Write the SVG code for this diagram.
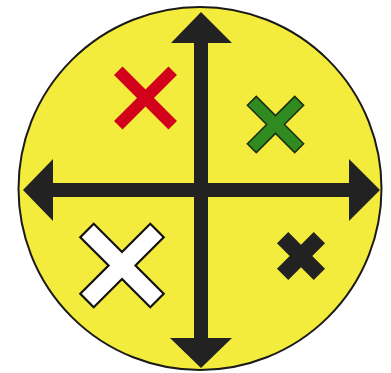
<svg xmlns="http://www.w3.org/2000/svg" width="391" height="373" viewBox="0 0 391 373">
<style>
.bg{fill:#fff}
.disc{fill:#f4ec3c;stroke:#1a1a1a;stroke-width:2}
.arrow{fill:#222}
</style>
<rect class="bg" width="391" height="373"/>
<g id="disc"><circle class="disc" cx="200" cy="188.5" r="181.5"/></g>
<g id="connectors">
<polygon class="arrow" points="201,12 232,43 208,43 208,338 232,338 201,368 170,338 194,338 194,43 171,43"/>
<polygon class="arrow" points="23,190 53,159 53,183 349,183 349,159 380,190 349,221 349,197 53,197 53,221"/>
</g>
<g id="red-x" transform="translate(145.5,98) rotate(45)">
<polygon fill="#d2001a" points="6,38.5 -6,38.5 -6,6 -38.5,6 -38.5,-6 -6,-6 -6,-38.5 6,-38.5 6,-6 38.5,-6 38.5,6 6,6"/>
</g>
<g id="green-x" transform="translate(275.5,124.5) rotate(45)">
<polygon fill="#2f8a1f" stroke="#1c2e12" stroke-width="1.5" stroke-linejoin="miter" points="6.3,33.5 -6.3,33.5 -6.3,6.3 -33.5,6.3 -33.5,-6.3 -6.3,-6.3 -6.3,-33.5 6.3,-33.5 6.3,-6.3 33.5,-6.3 33.5,6.3 6.3,6.3"/>
</g>
<g id="white-x" transform="translate(122,265.5) rotate(45)">
<polygon fill="#ffffff" stroke="#111" stroke-width="2.2" points="9.5,49.5 -9.5,49.5 -9.5,9.5 -49.5,9.5 -49.5,-9.5 -9.5,-9.5 -9.5,-49.5 9.5,-49.5 9.5,-9.5 49.5,-9.5 49.5,9.5 9.5,9.5"/>
</g>
<g id="black-x" transform="translate(301,256) rotate(45)">
<polygon fill="#222" points="8,26 -8,26 -8,8 -26,8 -26,-8 -8,-8 -8,-26 8,-26 8,-8 26,-8 26,8 8,8"/>
</g>
</svg>
